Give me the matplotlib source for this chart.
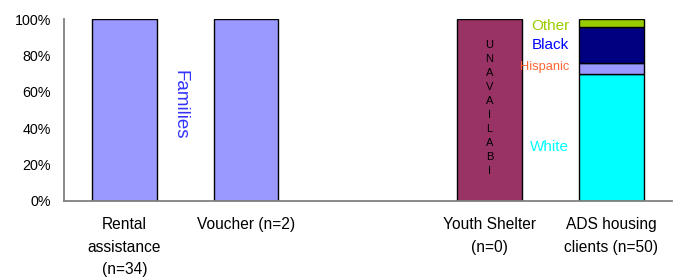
import matplotlib
matplotlib.use("Agg")
import matplotlib.pyplot as plt
import numpy as np

plt.rcParams['font.family'] = ['Liberation Sans', 'DejaVu Sans']

categories = ["Rental\nassistance\n(n=34)", "Voucher (n=2)", "", "Youth Shelter\n(n=0)", "ADS housing\nclients (n=50)"]
families_values = [100, 100]          # Rental, Voucher
youth_value = [100]                   # unavailable placeholder
ads_groups = ["White", "Hispanic", "Black", "Other"]
ads_values = [70, 6, 20, 4]
ads_colors = ["#00FFFF", "#9999FF", "#000080", "#99CC00"]
label_colors = ["#00FFFF", "#FF6633", "#0000FF", "#99CC00"]
label_y = [29.5, 73.6, 86.1, 96.3]

fig = plt.figure(figsize=(6.83, 2.78), dpi=100)
ax = fig.add_axes([0.0931, 0.278, 0.891, 0.6526])

x = np.arange(len(categories))
w = 0.53
ax.bar(x[:2], families_values, width=w, color="#9999FF", edgecolor="black", linewidth=1)
ax.bar(x[3:4], youth_value, width=w, color="#993366", edgecolor="black", linewidth=1)
bottom = 0
for v, c in zip(ads_values, ads_colors):
    ax.bar(x[4], v, width=w, bottom=bottom, color=c, edgecolor="black", linewidth=1)
    bottom += v

for g, c, yy in zip(ads_groups, label_colors, label_y):
    fs = 9.3 if g == "Hispanic" else 11
    ax.text(x[4] - w / 2 - 0.08, yy, g, color=c, ha="right", va="center", fontsize=fs)

ax.text(0.455, 52.8, "Families", rotation=-90, color="#3333FF", ha="center", va="center", fontsize=13.5)
ax.text(x[3], 51, "\n".join("UNAVAILABI"), color="black", ha="center", va="center",
        fontsize=8, linespacing=1.5)

ax.set_xlim(-0.5, len(categories) - 0.5)
ax.set_ylim(0, 100)
ax.set_yticks([0, 20, 40, 60, 80, 100])
ax.set_yticklabels([f"{v}%" for v in [0, 20, 40, 60, 80, 100]], fontsize=10.3)
ax.set_xticks(x)
ax.set_xticklabels(categories, fontsize=11.2, linespacing=1.6, va="top")
ax.tick_params(axis="both", length=0)
ax.tick_params(axis="x", pad=12)
ax.tick_params(axis="y", pad=9)
for s in ["top", "right"]:
    ax.spines[s].set_visible(False)
for s in ["left", "bottom"]:
    ax.spines[s].set_color("#808080")
    ax.spines[s].set_linewidth(1.3)

fig.savefig("out.png", dpi=100)
